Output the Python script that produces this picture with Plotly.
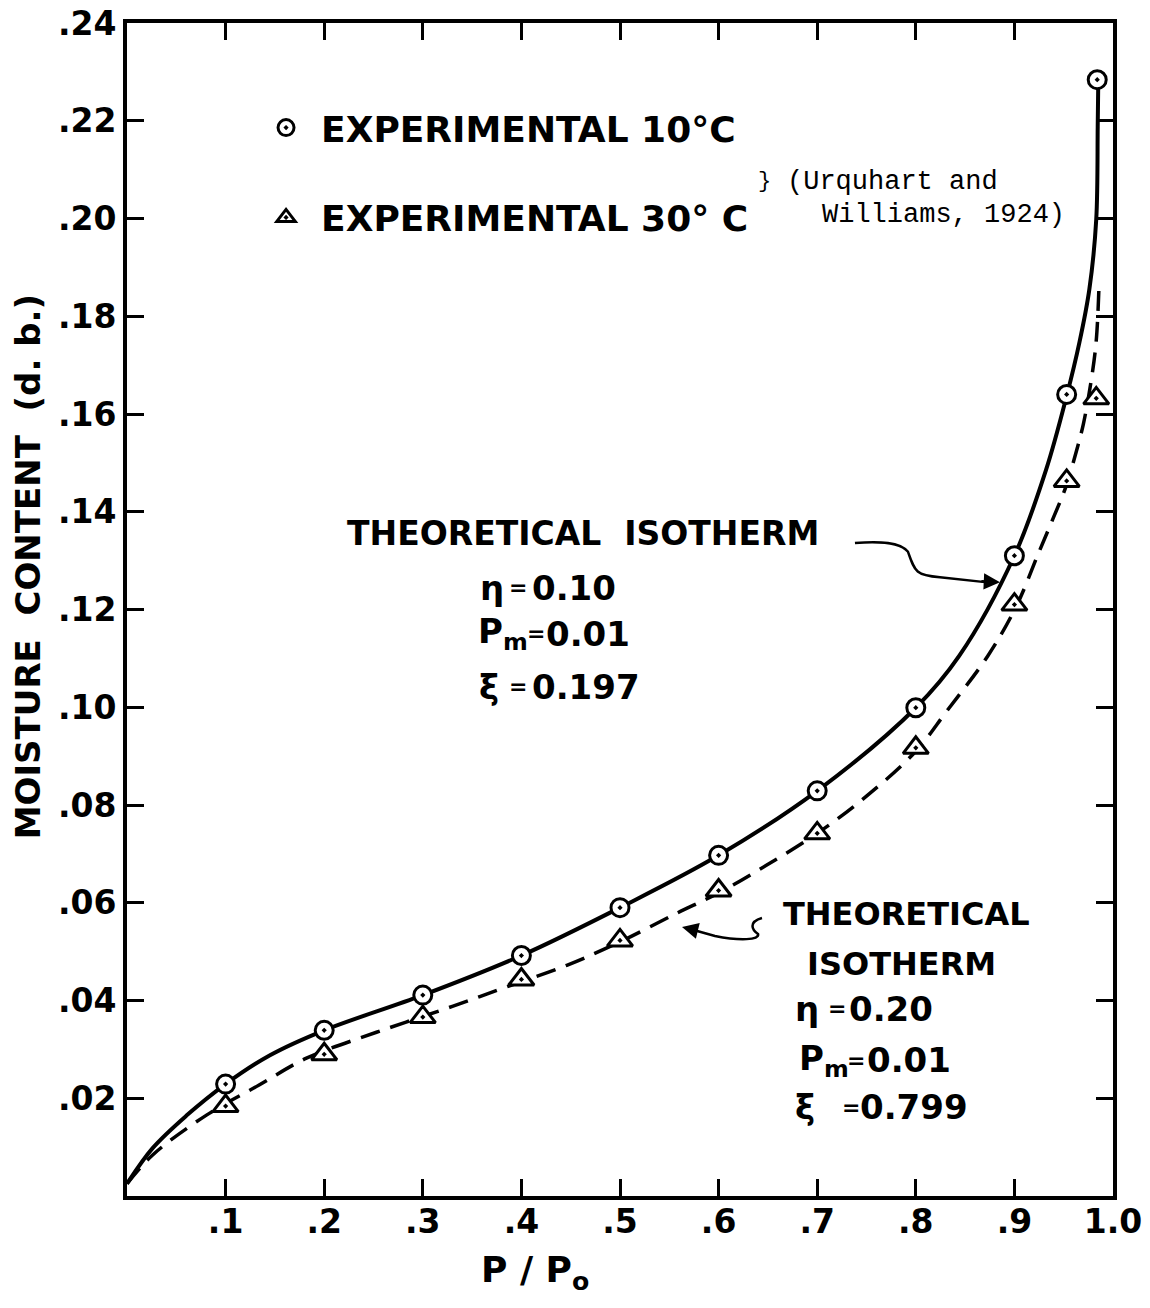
import plotly.graph_objects as go

# Experimental sorption points (Urquhart and Williams, 1924)
rh_10c = [0.10, 0.20, 0.30, 0.40, 0.50, 0.60, 0.70, 0.80, 0.90, 0.953, 0.984]
mc_10c = [0.0229, 0.0339, 0.0411, 0.0492, 0.0590, 0.0697, 0.0829, 0.0999, 0.1310, 0.1640, 0.2284]

rh_30c = [0.10, 0.20, 0.30, 0.40, 0.50, 0.60, 0.70, 0.80, 0.90, 0.953, 0.983]
mc_30c = [0.0184, 0.0290, 0.0366, 0.0443, 0.0523, 0.0625, 0.0742, 0.0917, 0.1210, 0.1463, 0.1632]

# Theoretical isotherm, eta = 0.10 (solid)
theo1_x = [0.0, 0.026, 0.060, 0.100, 0.145, 0.200, 0.300, 0.400, 0.500, 0.600,
           0.700, 0.800, 0.844, 0.900, 0.932, 0.953, 0.966, 0.976, 0.983, 0.9845, 0.985]
theo1_y = [0.0025, 0.0098, 0.0164, 0.0229, 0.0288, 0.0339, 0.0411, 0.0492, 0.0590, 0.0697,
           0.0829, 0.0999, 0.1105, 0.1310, 0.1485, 0.1637, 0.1747, 0.1855, 0.1998, 0.2188, 0.2270]

# Theoretical isotherm, eta = 0.20 (dashed)
theo2_x = [0.0, 0.026, 0.081, 0.134, 0.182, 0.253, 0.330, 0.381, 0.446, 0.500,
           0.557, 0.600, 0.648, 0.700, 0.750, 0.800, 0.831, 0.873, 0.902, 0.925,
           0.940, 0.952, 0.963, 0.970, 0.978, 0.983, 0.986]
theo2_y = [0.0025, 0.0084, 0.0166, 0.0227, 0.0282, 0.0335, 0.0388, 0.0425, 0.0472, 0.0520,
           0.0578, 0.0620, 0.0676, 0.0742, 0.0818, 0.0910, 0.0991, 0.1105, 0.1207, 0.1318,
           0.1390, 0.1450, 0.1525, 0.1580, 0.1670, 0.1750, 0.1875]

x_ticks = [0.1, 0.2, 0.3, 0.4, 0.5, 0.6, 0.7, 0.8, 0.9, 1.0]
x_tick_text = [".1", ".2", ".3", ".4", ".5", ".6", ".7", ".8", ".9", "1.0"]
y_ticks = [0.02, 0.04, 0.06, 0.08, 0.10, 0.12, 0.14, 0.16, 0.18, 0.20, 0.22, 0.24]
y_tick_text = [".02", ".04", ".06", ".08", ".10", ".12", ".14", ".16", ".18", ".20", ".22", ".24"]

FONT = "DejaVu Sans"
MONO = "Liberation Mono"
INK = "black"

fig = go.Figure()

fig.add_trace(go.Scatter(
    x=theo1_x, y=theo1_y, mode="lines", showlegend=False,
    line=dict(color=INK, width=4, shape="spline", smoothing=1.0),
))
fig.add_trace(go.Scatter(
    x=theo2_x, y=theo2_y, mode="lines", showlegend=False,
    line=dict(color=INK, width=3.5, dash="20px,11px", shape="spline", smoothing=1.0),
))
fig.add_trace(go.Scatter(
    x=rh_10c, y=mc_10c, mode="markers", name="EXPERIMENTAL 10°C",
    legendgroup="a",
    marker=dict(symbol="circle-dot", size=18, color="white",
                line=dict(color=INK, width=3)),
))
fig.add_trace(go.Scatter(
    x=rh_30c, y=mc_30c, mode="markers", name="EXPERIMENTAL 30° C",
    legendgroup="b",
    marker=dict(symbol="triangle-up-dot", size=22, color="white",
                line=dict(color=INK, width=3)),
))

annotations = []


def label(x, y, text, size=33, anchor="left", family=FONT, weight="bold", ref="data"):
    xr, yr = ("x", "y") if ref == "data" else ("paper", "paper")
    annotations.append(dict(
        x=x, y=y, xref=xr, yref=yr, text=text, showarrow=False,
        xanchor=anchor, yanchor="middle",
        font=dict(family=family, size=size, color=INK, weight=weight),
    ))


# Upper theoretical isotherm block (eta = 0.10)
label(0.462, 0.1355, "THEORETICAL  ISOTHERM", size=33, anchor="center")
upper_sym = ["η", "P<sub>m</sub>", "ξ"]
upper_val = ["0.10", "0.01", "0.197"]
upper_y = [0.1245, 0.1150, 0.1042]
upper_sym_x = [0.356, 0.354, 0.355]
upper_eq_x = [0.3966, 0.4150, 0.3966]
upper_val_x = [0.4087, 0.4230, 0.4087]
for s, v, yy, sx, ex, vx in zip(upper_sym, upper_val, upper_y, upper_sym_x, upper_eq_x, upper_val_x):
    label(sx, yy, s, size=34)
    label(ex, yy, "=", size=22, anchor="center")
    label(vx, yy, v, size=34)

# Lower theoretical isotherm block (eta = 0.20)
label(0.7905, 0.0578, "THEORETICAL", size=32, anchor="center")
label(0.7850, 0.0475, "ISOTHERM", size=32, anchor="center")
lower_sym = ["η", "P<sub>m</sub>", "ξ"]
lower_val = ["0.20", "0.01", "0.799"]
lower_y = [0.0383, 0.0278, 0.0182]
lower_sym_x = [0.6755, 0.6800, 0.6755]
lower_eq_x = [0.7200, 0.7390, 0.7343]
lower_val_x = [0.7300, 0.7480, 0.7414]
for s, v, yy, sx, ex, vx in zip(lower_sym, lower_val, lower_y, lower_sym_x, lower_eq_x, lower_val_x):
    label(sx, yy, s, size=34)
    label(ex, yy, "=", size=22, anchor="center")
    label(vx, yy, v, size=34)

# Source reference
label(0.638, 0.2075, "}", size=22, family=MONO, weight="normal")
label(0.6673, 0.2075, "(Urquhart and", size=27, family=MONO, weight="normal")
label(0.7028, 0.2008, "Williams, 1924)", size=27, family=MONO, weight="normal")

# Axis titles
label(0.4138, -0.0648, "P / P<sub>o</sub>", size=36, anchor="center", ref="paper")
annotations.append(dict(
    x=-0.1004, y=0.536, xref="paper", yref="paper", text="MOISTURE  CONTENT  (d. b.)",
    showarrow=False, textangle=-90, xanchor="center", yanchor="middle",
    font=dict(family=FONT, size=34, color=INK, weight="bold"),
))

# Arrowheads for the pointer lines
annotations.append(dict(
    x=0.8854, y=0.1256, ax=0.8650, ay=0.1258, xref="x", yref="y", axref="x", ayref="y",
    text="", showarrow=True, arrowhead=2, arrowsize=1.3, arrowwidth=2.5, arrowcolor=INK,
))
annotations.append(dict(
    x=0.5629, y=0.05504, ax=0.5800, ay=0.05420, xref="x", yref="y", axref="x", ayref="y",
    text="", showarrow=True, arrowhead=2, arrowsize=1.3, arrowwidth=2.5, arrowcolor=INK,
))

shapes = [
    dict(type="path", xref="x", yref="y",
         path="M 0.7383,0.1336 C 0.7637,0.1340 0.7840,0.1338 0.7921,0.1318 "
              "C 0.7992,0.1277 0.8000,0.1270 0.8245,0.1266 L 0.8702,0.1256",
         line=dict(color=INK, width=2.5)),
    dict(type="path", xref="x", yref="y",
         path="M 0.6440,0.05688 C 0.6298,0.05606 0.6339,0.05442 0.6400,0.05361 "
              "C 0.6420,0.05238 0.6217,0.05217 0.5963,0.05320 L 0.5710,0.05463",
         line=dict(color=INK, width=2.5)),
]

axis_common = dict(
    showgrid=False, zeroline=False, showline=True, linecolor=INK, linewidth=4,
    mirror="ticks", ticks="inside", ticklen=17, tickwidth=3, tickcolor=INK,
    tickfont=dict(family=FONT, size=33, color=INK, weight="bold"),
    automargin=False,
)

fig.update_layout(
    width=1150, height=1308,
    margin=dict(l=127, r=37, t=23, b=112),
    paper_bgcolor="white", plot_bgcolor="white",
    xaxis=dict(range=[0, 1.0], tickvals=x_ticks, ticktext=x_tick_text,
               ticklabelstandoff=-7, **axis_common),
    yaxis=dict(range=[0, 0.24], tickvals=y_ticks, ticktext=y_tick_text, **axis_common),
    legend=dict(
        x=0.1258, y=0.9363, xanchor="left", yanchor="top",
        font=dict(family=FONT, size=36, color=INK, weight="bold"),
        bgcolor="rgba(0,0,0,0)", traceorder="grouped", tracegroupgap=40,
        itemwidth=60,
    ),
    annotations=annotations,
    shapes=shapes,
)

fig.write_html("out.html")
